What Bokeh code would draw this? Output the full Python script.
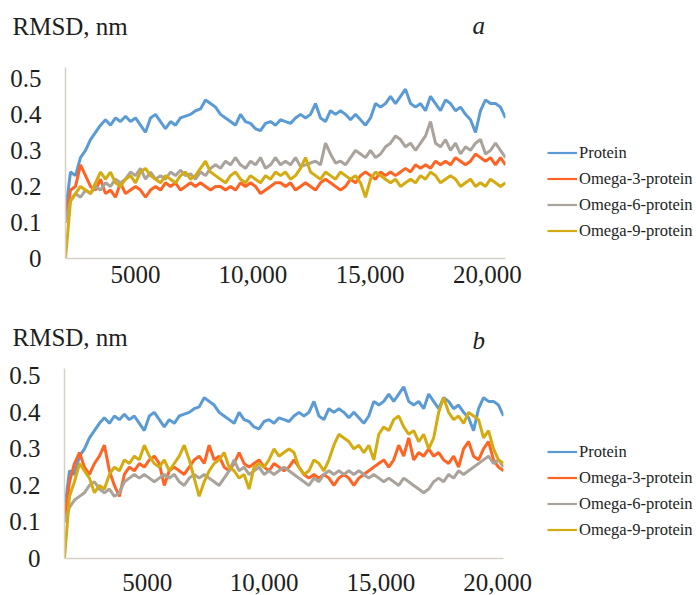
import numpy as np
from bokeh.plotting import figure
from bokeh.layouts import column, row
from bokeh.models import Label, Legend, LegendItem, FixedTicker, Range1d
from bokeh.embed import file_html
from bokeh.resources import INLINE

# ---------------- data ----------------
series_names = ["Protein", "Omega-3-protein", "Omega-6-protein", "Omega-9-protein"]
series_colors = ["#5B9BD5", "#FF6424", "#A9A39B", "#D4AC12"]

# time span shown on each panel (ps)
time_a = (2020, 20770)
time_b = (1456, 20250)

protein = [0.13, 0.24, 0.23, 0.28, 0.30, 0.33, 0.35, 0.37, 0.385, 0.37,
           0.39, 0.38, 0.395, 0.38, 0.39, 0.37, 0.35, 0.39, 0.40, 0.38,
           0.36, 0.38, 0.37, 0.39, 0.395, 0.40, 0.41, 0.415, 0.44, 0.43,
           0.42, 0.40, 0.39, 0.38, 0.37, 0.40, 0.38, 0.375, 0.36, 0.355,
           0.375, 0.38, 0.37, 0.385, 0.38, 0.375, 0.39, 0.40, 0.39, 0.40,
           0.43, 0.39, 0.38, 0.41, 0.40, 0.41, 0.40, 0.385, 0.40, 0.385,
           0.37, 0.39, 0.43, 0.42, 0.43, 0.45, 0.43, 0.45, 0.47, 0.43,
           0.42, 0.43, 0.41, 0.45, 0.43, 0.41, 0.44, 0.43, 0.41, 0.42,
           0.40, 0.385, 0.35, 0.41, 0.44, 0.43, 0.43, 0.42, 0.39]

omega3_a = [0.10, 0.19, 0.20, 0.26, 0.23, 0.20, 0.19, 0.22, 0.18, 0.19,
            0.17, 0.21, 0.18, 0.19, 0.20, 0.19, 0.17, 0.19, 0.20, 0.19,
            0.21, 0.20, 0.21, 0.19, 0.20, 0.21, 0.20, 0.21, 0.20, 0.19,
            0.20, 0.20, 0.19, 0.20, 0.19, 0.21, 0.20, 0.21, 0.20, 0.18,
            0.19, 0.20, 0.21, 0.21, 0.20, 0.21, 0.19, 0.20, 0.21, 0.20,
            0.19, 0.21, 0.22, 0.21, 0.20, 0.19, 0.20, 0.22, 0.21, 0.23,
            0.24, 0.23, 0.22, 0.24, 0.23, 0.24, 0.23, 0.24, 0.25, 0.24,
            0.26, 0.25, 0.26, 0.25, 0.27, 0.26, 0.27, 0.26, 0.28, 0.27,
            0.26, 0.27, 0.29, 0.28, 0.27, 0.28, 0.26, 0.28, 0.26]

omega6_a = [0.10, 0.16, 0.18, 0.17, 0.19, 0.18, 0.20, 0.19, 0.21, 0.20,
            0.22, 0.21, 0.22, 0.24, 0.23, 0.25, 0.22, 0.24, 0.22, 0.23,
            0.22, 0.24, 0.23, 0.245, 0.23, 0.235, 0.22, 0.24, 0.23, 0.25,
            0.26, 0.25, 0.27, 0.26, 0.28, 0.26, 0.25, 0.27, 0.26, 0.28,
            0.25, 0.26, 0.28, 0.26, 0.27, 0.26, 0.28, 0.255, 0.26, 0.265,
            0.27, 0.26, 0.32, 0.29, 0.265, 0.27, 0.26, 0.28, 0.30, 0.29,
            0.28, 0.30, 0.28, 0.29, 0.31, 0.32, 0.34, 0.33, 0.31, 0.32,
            0.30, 0.32, 0.34, 0.38, 0.32, 0.31, 0.33, 0.30, 0.32, 0.29,
            0.31, 0.30, 0.32, 0.33, 0.29, 0.30, 0.32, 0.30, 0.28]

omega9_a = [0.0, 0.16, 0.18, 0.20, 0.19, 0.18, 0.21, 0.24, 0.22, 0.24,
            0.21, 0.20, 0.22, 0.23, 0.21, 0.24, 0.25, 0.23, 0.22, 0.21,
            0.23, 0.22, 0.21, 0.23, 0.24, 0.22, 0.23, 0.25, 0.27, 0.24,
            0.23, 0.22, 0.21, 0.23, 0.24, 0.22, 0.21, 0.23, 0.22, 0.21,
            0.23, 0.22, 0.24, 0.23, 0.24, 0.22, 0.23, 0.25, 0.28, 0.24,
            0.23, 0.22, 0.24, 0.23, 0.22, 0.24, 0.23, 0.22, 0.23, 0.21,
            0.17, 0.22, 0.24, 0.23, 0.22, 0.21, 0.22, 0.20, 0.21, 0.22,
            0.21, 0.23, 0.22, 0.24, 0.23, 0.21, 0.22, 0.23, 0.22, 0.20,
            0.21, 0.22, 0.20, 0.21, 0.20, 0.22, 0.21, 0.20, 0.21]

omega3_b = [0.10, 0.21, 0.26, 0.29, 0.25, 0.23, 0.26, 0.28, 0.31, 0.24,
            0.20, 0.17, 0.23, 0.25, 0.24, 0.26, 0.25, 0.27, 0.28, 0.26,
            0.20, 0.24, 0.25, 0.24, 0.23, 0.25, 0.27, 0.28, 0.26, 0.31,
            0.27, 0.28, 0.25, 0.24, 0.26, 0.29, 0.26, 0.25, 0.26, 0.27,
            0.25, 0.24, 0.26, 0.25, 0.24, 0.25, 0.27, 0.25, 0.23, 0.22,
            0.23, 0.22, 0.23, 0.22, 0.20, 0.22, 0.23, 0.22, 0.20, 0.22,
            0.23, 0.24, 0.25, 0.26, 0.27, 0.25, 0.27, 0.31, 0.28, 0.33,
            0.27, 0.29, 0.28, 0.30, 0.28, 0.29, 0.27, 0.26, 0.28, 0.25,
            0.30, 0.32, 0.28, 0.27, 0.30, 0.32, 0.27, 0.25, 0.24]

omega6_b = [0.10, 0.14, 0.16, 0.17, 0.18, 0.20, 0.21, 0.19, 0.18, 0.19,
            0.17, 0.18, 0.21, 0.22, 0.23, 0.22, 0.23, 0.22, 0.21, 0.22,
            0.23, 0.22, 0.23, 0.21, 0.20, 0.22, 0.23, 0.22, 0.23, 0.22,
            0.21, 0.20, 0.22, 0.24, 0.27, 0.24, 0.25, 0.23, 0.24, 0.25,
            0.23, 0.24, 0.23, 0.24, 0.25, 0.24, 0.23, 0.22, 0.21, 0.20,
            0.22, 0.21, 0.23, 0.24, 0.23, 0.24, 0.23, 0.24, 0.23, 0.24,
            0.23, 0.22, 0.23, 0.22, 0.21, 0.22, 0.21, 0.20, 0.22, 0.21,
            0.20, 0.19, 0.18, 0.19, 0.21, 0.22, 0.21, 0.23, 0.22, 0.24,
            0.23, 0.24, 0.25, 0.26, 0.27, 0.28, 0.26, 0.27, 0.25]

omega9_b = [0.0, 0.17, 0.21, 0.26, 0.24, 0.22, 0.18, 0.20, 0.19, 0.23,
            0.25, 0.24, 0.27, 0.26, 0.28, 0.27, 0.31, 0.28, 0.26, 0.25,
            0.27, 0.24, 0.26, 0.28, 0.31, 0.27, 0.22, 0.17, 0.21, 0.24,
            0.26, 0.27, 0.29, 0.25, 0.24, 0.22, 0.23, 0.19, 0.25, 0.26,
            0.25, 0.27, 0.30, 0.28, 0.29, 0.30, 0.29, 0.25, 0.23, 0.24,
            0.27, 0.26, 0.24, 0.27, 0.31, 0.34, 0.33, 0.32, 0.30, 0.31,
            0.29, 0.31, 0.27, 0.34, 0.36, 0.35, 0.38, 0.39, 0.36, 0.34,
            0.35, 0.32, 0.34, 0.30, 0.33, 0.40, 0.44, 0.40, 0.38, 0.39,
            0.37, 0.40, 0.39, 0.38, 0.33, 0.35, 0.30, 0.27, 0.26]

y_ticks = [0, 0.1, 0.2, 0.3, 0.4, 0.5]
y_tick_labels = ["0", "0.1", "0.2", "0.3", "0.4", "0.5"]
x_ticks = [5000, 10000, 15000, 20000]
x_tick_labels = ["5000", "10,000", "15,000", "20,000"]

SERIF = "Liberation Serif"
TEXT = "#1e1e1e"
AXIS = "#D6D1C6"
MAIN_W = 540
LEG_W = 696 - MAIN_W


def blank_fig(width, height):
    f = figure(width=width, height=height, output_backend="svg",
               toolbar_location=None, tools="",
               x_axis_location=None, y_axis_location=None,
               x_range=Range1d(0, 1), y_range=Range1d(0, 1),
               min_border=0, min_border_left=0, min_border_right=0,
               min_border_top=0, min_border_bottom=0)
    f.outline_line_color = None
    f.grid.visible = False
    f.background_fill_color = "white"
    f.border_fill_color = "white"
    return f


def header(height, letter, label_y, letter_y):
    h = blank_fig(696, height)
    h.add_layout(Label(x=12, y=label_y, x_units="screen", y_units="screen",
                       text="RMSD, nm", text_font=SERIF, text_font_size="25px",
                       text_color=TEXT, text_baseline="alphabetic"))
    h.add_layout(Label(x=472, y=letter_y, x_units="screen", y_units="screen",
                       text=letter, text_font=SERIF, text_font_size="25px",
                       text_font_style="italic", text_color=TEXT,
                       text_baseline="alphabetic"))
    return h


def main_panel(times, ys, height, border_top, border_bottom, border_left,
               frame_right, y_end, x_standoff):
    p = figure(width=MAIN_W, height=height, output_backend="svg",
               toolbar_location=None, tools="",
               x_range=Range1d(*times), y_range=Range1d(0, y_end),
               min_border_top=border_top, min_border_bottom=border_bottom,
               min_border_left=border_left,
               min_border_right=MAIN_W - frame_right)
    p.outline_line_color = None
    p.grid.visible = False
    p.background_fill_color = "white"
    p.border_fill_color = "white"

    for ax in (p.xaxis[0], p.yaxis[0]):
        ax.axis_line_color = AXIS
        ax.axis_line_width = 1.5
        ax.major_tick_line_color = None
        ax.minor_tick_line_color = None
        ax.major_label_text_font = SERIF
        ax.major_label_text_font_size = "25px"
        ax.major_label_text_color = TEXT

    p.yaxis.ticker = FixedTicker(ticks=y_ticks)
    p.yaxis.major_label_overrides = dict(zip(y_ticks, y_tick_labels))
    p.yaxis.major_label_standoff = 18
    p.xaxis.ticker = FixedTicker(ticks=x_ticks)
    p.xaxis.major_label_overrides = dict(zip(x_ticks, x_tick_labels))
    p.xaxis.major_label_standoff = x_standoff

    for color, vals in zip(series_colors, ys):
        t = np.linspace(times[0], times[1], len(vals))
        p.line(t, vals, line_color=color, line_width=3)
    return p


def legend_panel(height, leg_y):
    f = blank_fig(LEG_W, height)
    items = []
    for name, color in zip(series_names, series_colors):
        # legend-only renderer: holds the style, draws nothing in the frame
        r = f.line([np.nan, np.nan], [np.nan, np.nan], line_color=color,
                   line_width=2.2)
        items.append(LegendItem(label=name, renderers=[r]))
    leg = Legend(items=items, location=(7, leg_y),
                 glyph_width=30, glyph_height=23, spacing=3,
                 label_standoff=2, padding=0, margin=0,
                 label_text_font=SERIF, label_text_font_size="16.5px",
                 label_text_color=TEXT,
                 border_line_alpha=0, background_fill_alpha=0)
    f.add_layout(leg, "center")
    return f


# panel a : canvas rows 0-50 (header) and 50-300 (plot)
ha = header(50, "a", 24, 25)
pa = main_panel(time_a, [protein, omega3_a, omega6_a, omega9_a],
                height=250, border_top=17, border_bottom=42,
                border_left=65, frame_right=505, y_end=0.53, x_standoff=1)
la = legend_panel(250, 16)

# panel b : canvas rows 300-360 (header) and 360-595 (plot)
hb = header(60, "b", 23, 20)
pb = main_panel(time_b, [protein, omega3_b, omega6_b, omega9_b],
                height=235, border_top=8, border_bottom=37,
                border_left=64, frame_right=503, y_end=0.52, x_standoff=9)
lb = legend_panel(235, 17)

layout = column(ha, row(pa, la, spacing=0), hb, row(pb, lb, spacing=0),
                spacing=0)
open("out.html", "w").write(file_html(layout, INLINE))
